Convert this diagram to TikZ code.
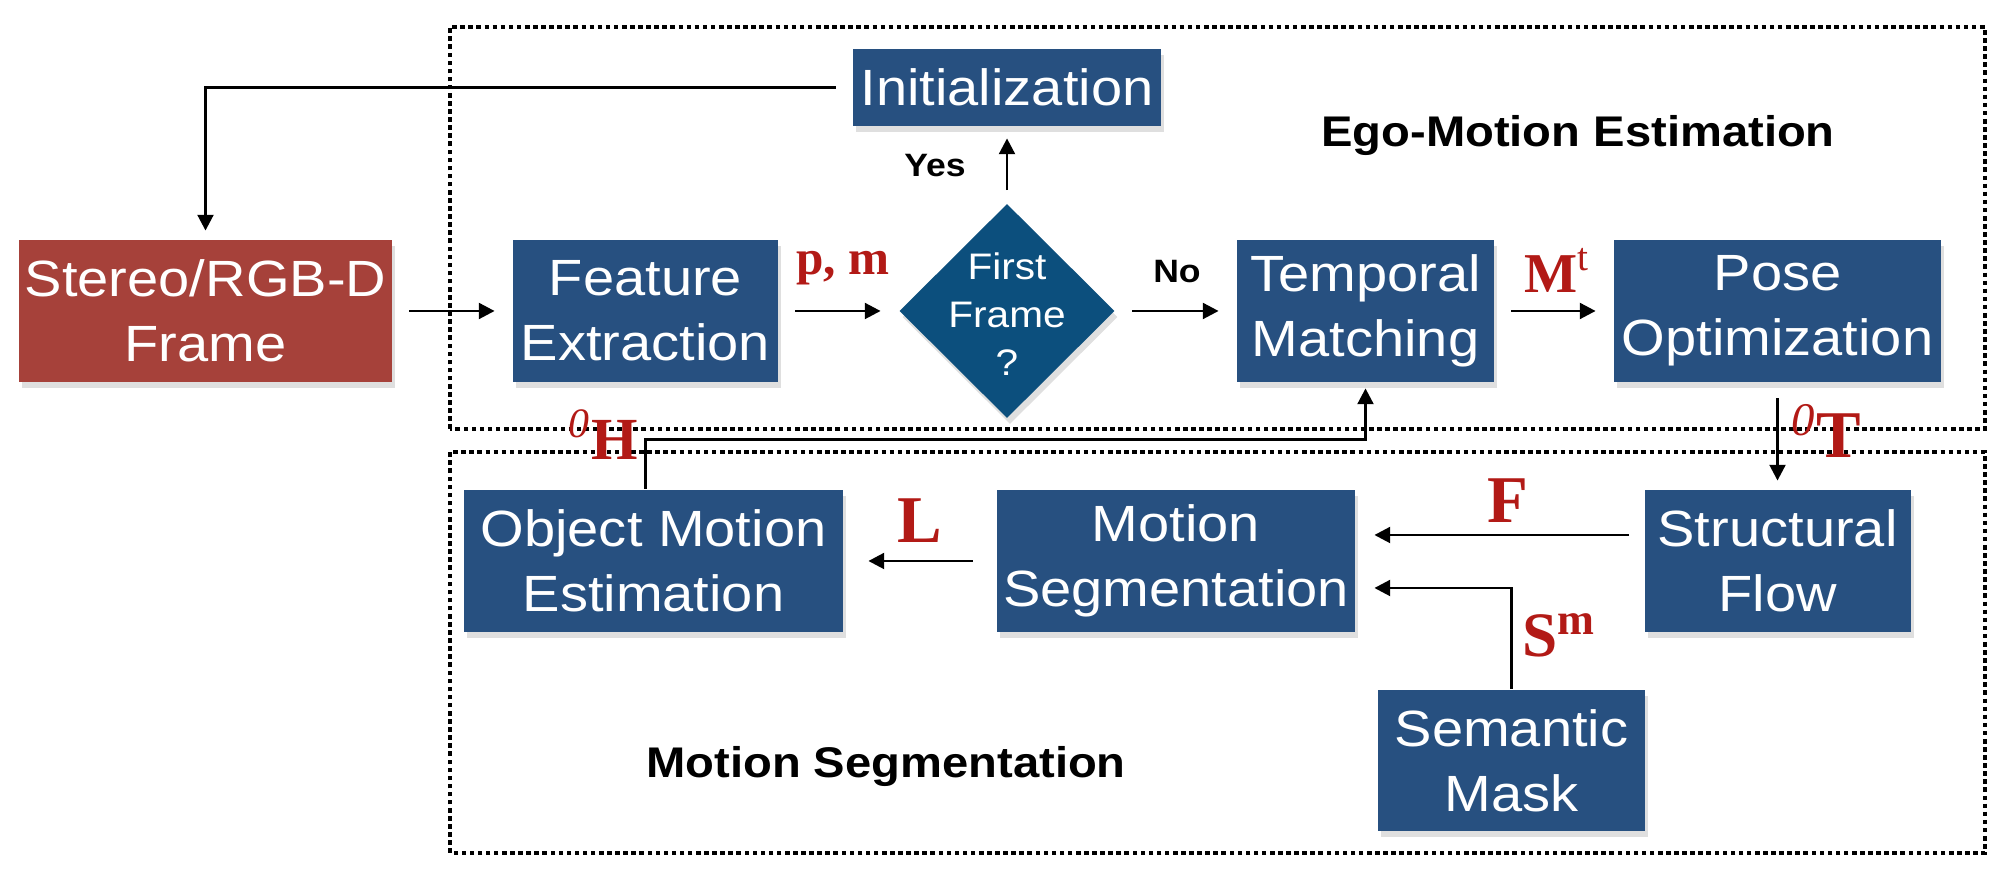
\documentclass[tikz,border=0pt]{standalone}
\usepackage{fontspec}
\setmainfont{Liberation Sans}[FakeStretch=1.1]
\newfontfamily\labelfont{Liberation Serif}
\usetikzlibrary{shapes.geometric,arrows.meta,shadows}
\definecolor{boxblue}{RGB}{39,80,128}
\definecolor{diablue}{RGB}{12,79,125}
\definecolor{framered}{RGB}{166,65,58}
\definecolor{lblred}{RGB}{178,26,22}

\def\bh{1.42}
\def\gap{0.16cm}

\begin{document}
\begin{tikzpicture}[>={Triangle[length=4.5pt,width=4.5pt]}, line width=0.8pt,
                      blk/.style={fill=boxblue, text=white, align=center,
                          minimum width=#1, minimum height=\bh cm, inner sep=0pt,
                          font=\fontsize{14.5}{18.5}\selectfont,
                          drop shadow={shadow xshift=0.3mm, shadow yshift=-0.6mm, opacity=0.25}},
                      dia/.style={diamond, fill=diablue, minimum width=2.16cm,
                          minimum height=2.15cm, inner sep=0pt,
                          drop shadow={shadow xshift=0.3mm, shadow yshift=-0.6mm, opacity=0.25}},
                      lbl/.style={text=lblred, anchor=base, inner sep=0pt,
                          font=\labelfont\bfseries\fontsize{#1}{#1}\selectfont},
                      ttl/.style={anchor=base, inner sep=0pt,
                          font=\bfseries\fontsize{#1}{#1}\selectfont},
                      dotbox/.style={line width=1pt, dash pattern=on 1.3pt off 1pt},
                      conn/.style={->, shorten <=\gap, shorten >=0.17cm}
                     ]
\useasboundingbox (0,0) rectangle (20.12,8.84);

\draw [dotbox] (4.50,4.55) rectangle (19.85,8.57);
\draw [dotbox] (4.50,0.31) rectangle (19.85,4.32);

\node [blk=3.08cm, minimum height=0.77cm] (init) at (10.07,7.965) {Initialization};
\node [blk=3.73cm, fill=framered] (stereo) at (2.055,5.73) {Stereo/RGB-D\\Frame};
\node [blk=2.65cm] (feat) at (6.455,5.73) {Feature\\Extraction};
\node [dia] (first) at (10.07,5.73) {};
\node [text=white, align=center, inner sep=0pt,
       font=\fontsize{10.5}{13.7}\selectfont] (firstq) at (10.07,5.70) {First\\Frame\\?};
\node [blk=2.57cm] (tmatch) at (13.655,5.73) {Temporal\\Matching};
\node [blk=3.27cm] (pose) at (17.775,5.73) {Pose\\Optimization};

\node [blk=3.79cm] (omest) at (6.535,3.23) {Object Motion\\Estimation};
\node [blk=3.58cm] (mseg) at (11.76,3.23) {Motion\\Segmentation};
\node [blk=2.66cm] (sflow) at (17.775,3.23) {Structural\\Flow};
\node [blk=2.67cm, minimum height=1.41cm] (smask) at (15.115,1.235) {Semantic\\Mask};

\node [ttl=12.2] (egottl) at (15.78,7.37) {Ego-Motion Estimation};
\node [ttl=12.2] (segttl) at (8.86,1.06) {Motion Segmentation};
\node [ttl=9.2] (yes) at (9.35,7.07) {Yes};
\node [ttl=9.2] (no) at (11.77,6.01) {No};

\draw [->, shorten <=\gap, shorten >=0.08cm] (init.west) -| (stereo.north);
\draw [conn] (stereo) -- (feat);
\draw [conn] (feat) -- (first);
\draw [->, shorten <=0.12cm, shorten >=0.11cm] (first.north) -- (init.south);
\draw [conn] (first) -- (tmatch);
\draw [conn] (tmatch) -- (pose);
\draw [->, shorten <=0.15cm, shorten >=0.08cm] (pose) -- (sflow);
\draw [->, shorten <=0.14cm, shorten >=0.18cm]
      ([yshift=2.6mm]sflow.west) -- ([yshift=2.6mm]mseg.east);
\draw [->, shorten >=0.18cm] (smask.north) |- ([yshift=-2.7mm]mseg.east);
\draw [->, shorten <=0.23cm, shorten >=0.24cm] (mseg) -- (omest);
\draw [->, shorten >=0.05cm] ([xshift=-0.8mm]omest.north) -- ++(0,0.49) -| (tmatch.south);

\node [lbl=14] (lpm) at (8.43,6.09) {p, m};
\node [lbl=16] (lmt) at (15.57,5.91) {M\textsuperscript{\mdseries t}};
\node [lbl=19] (lot) at (18.26,4.26) {\textsuperscript{\mdseries\itshape 0}T};
\node [lbl=17] (loh) at (6.03,4.24) {\textsuperscript{\mdseries\itshape 0}H};
\node [lbl=19] (ll) at (9.20,3.41) {L};
\node [lbl=19] (lf) at (15.08,3.61) {F};
\node [lbl=18] (lsm) at (15.59,2.27) {S\textsuperscript{m}};
\end{tikzpicture}
\end{document}
